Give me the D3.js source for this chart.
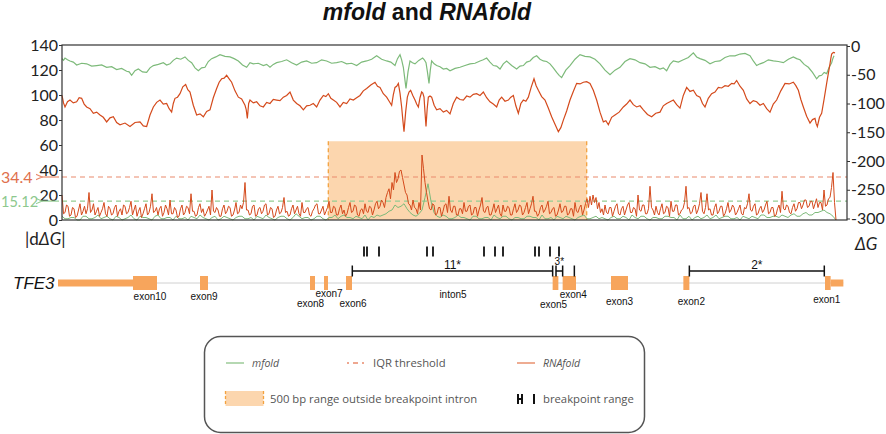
<!DOCTYPE html>
<html><head><meta charset="utf-8">
<script src="https://cdn.jsdelivr.net/npm/d3@7"></script>
<style>body{margin:0;background:#fff}svg{display:block}</style>
</head><body>
<svg id="c" width="886" height="434"></svg>
<script>
// ---------------- DATA ----------------
const xSpan = [0, 15700];               // bp shown on the x axis
const leftTicks = [0, 20, 40, 60, 80, 100, 120, 140];
const rightTicks = [-300, -250, -200, -150, -100, -50, 0];
const iqrRNAfold = 34.4;
const iqrMfold = 15.12;
const intronWindow = [5326, 10494];     // 500 bp range outside breakpoint intron
const intronWindowTop = 63;

// ΔG along the sequence: [position, ΔG]
const rnafoldDG = [[0,-86],[30,-99],[60,-106],[110,-97],[160,-94],[226,-99],[293,-97],[343,-90],[393,-91],[443,-101],[493,-106],[560,-109],[627,-117],[693,-115],[760,-120],[826,-124],[893,-132],[960,-125],[1027,-123],[1093,-133],[1160,-137],[1260,-134],[1360,-140],[1460,-133],[1560,-132],[1626,-139],[1693,-140],[1760,-120],[1827,-106],[1893,-98],[1960,-94],[2026,-101],[2093,-100],[2143,-109],[2193,-115],[2226,-100],[2260,-91],[2310,-89],[2360,-83],[2416,-71],[2473,-67],[2516,-76],[2560,-80],[2626,-103],[2693,-120],[2760,-118],[2827,-123],[2893,-114],[2960,-111],[3026,-90],[3093,-74],[3143,-63],[3193,-57],[3243,-56],[3293,-51],[3343,-57],[3393,-63],[3460,-78],[3527,-89],[3593,-92],[3660,-103],[3683,-110],[3707,-126],[3733,-100],[3760,-94],[3826,-99],[3893,-97],[3960,-104],[4027,-106],[4093,-98],[4160,-100],[4226,-93],[4293,-94],[4360,-95],[4427,-89],[4493,-86],[4560,-80],[4626,-94],[4693,-100],[4760,-104],[4827,-111],[4893,-104],[4960,-103],[5026,-100],[5093,-106],[5160,-94],[5227,-86],[5277,-88],[5327,-83],[5377,-91],[5427,-94],[5493,-98],[5560,-106],[5626,-98],[5693,-100],[5760,-92],[5827,-94],[5893,-90],[5960,-86],[6026,-78],[6093,-74],[6176,-68],[6260,-63],[6310,-70],[6360,-72],[6426,-83],[6493,-89],[6543,-96],[6593,-103],[6626,-85],[6660,-72],[6693,-70],[6727,-65],[6760,-82],[6793,-106],[6816,-128],[6840,-149],[6873,-115],[6907,-89],[6940,-80],[6973,-77],[7016,-86],[7060,-94],[7093,-101],[7127,-106],[7160,-90],[7193,-80],[7216,-82],[7240,-89],[7260,-115],[7280,-140],[7303,-110],[7327,-89],[7360,-87],[7393,-89],[7443,-103],[7493,-111],[7560,-109],[7627,-115],[7693,-112],[7760,-118],[7826,-100],[7893,-89],[7960,-93],[8027,-94],[8093,-87],[8160,-89],[8226,-84],[8293,-83],[8360,-86],[8427,-80],[8493,-90],[8560,-97],[8626,-101],[8693,-106],[8743,-94],[8793,-89],[8860,-96],[8927,-94],[8977,-89],[9027,-86],[9077,-104],[9127,-117],[9177,-100],[9227,-94],[9277,-96],[9327,-89],[9383,-72],[9440,-57],[9483,-69],[9527,-77],[9593,-88],[9660,-94],[9726,-108],[9793,-123],[9860,-136],[9927,-149],[9977,-142],[10027,-129],[10093,-113],[10160,-94],[10226,-79],[10293,-65],[10360,-66],[10427,-63],[10493,-62],[10560,-65],[10626,-77],[10693,-94],[10760,-115],[10827,-132],[10877,-130],[10927,-137],[10993,-124],[11060,-120],[11143,-115],[11227,-106],[11293,-101],[11360,-94],[11426,-102],[11493,-106],[11560,-104],[11627,-111],[11710,-119],[11793,-123],[11876,-117],[11960,-115],[12026,-104],[12093,-100],[12160,-97],[12227,-94],[12293,-102],[12360,-108],[12426,-86],[12493,-72],[12560,-79],[12627,-77],[12693,-86],[12760,-89],[12810,-100],[12860,-106],[12926,-91],[12993,-83],[13060,-80],[13127,-72],[13193,-73],[13260,-69],[13326,-70],[13393,-65],[13443,-66],[13493,-60],[13560,-70],[13627,-77],[13693,-92],[13760,-100],[13826,-95],[13893,-97],[13960,-103],[14027,-100],[14093,-109],[14160,-115],[14226,-101],[14293,-94],[14376,-78],[14460,-65],[14543,-66],[14627,-63],[14677,-69],[14727,-77],[14777,-93],[14827,-106],[14893,-122],[14960,-134],[15010,-128],[15060,-126],[15083,-135],[15107,-140],[15150,-124],[15193,-117],[15243,-92],[15293,-65],[15326,-48],[15360,-31],[15376,-22],[15393,-14],[15426,-11],[15460,-12]];

const mfoldDG = [[0,-22],[30,-25],[60,-21],[110,-24],[160,-26],[226,-28],[293,-33],[393,-30],[493,-31],[593,-35],[693,-34],[793,-33],[893,-37],[993,-36],[1093,-41],[1193,-39],[1293,-44],[1343,-45],[1393,-51],[1460,-43],[1527,-40],[1610,-45],[1693,-46],[1760,-38],[1827,-34],[1927,-32],[2027,-29],[2093,-33],[2160,-31],[2226,-25],[2293,-21],[2376,-23],[2460,-19],[2526,-25],[2593,-29],[2660,-38],[2727,-43],[2793,-38],[2860,-37],[2926,-27],[2993,-22],[3076,-19],[3160,-15],[3260,-18],[3360,-19],[3443,-22],[3527,-26],[3610,-33],[3693,-37],[3760,-29],[3827,-31],[3926,-30],[4027,-34],[4093,-32],[4160,-37],[4226,-32],[4293,-29],[4393,-27],[4493,-24],[4593,-29],[4693,-33],[4793,-28],[4893,-26],[4993,-30],[5093,-29],[5193,-24],[5293,-26],[5393,-30],[5493,-29],[5593,-27],[5693,-31],[5793,-30],[5893,-34],[5993,-28],[6093,-26],[6193,-23],[6293,-17],[6393,-23],[6493,-26],[6576,-28],[6660,-34],[6710,-22],[6760,-15],[6793,-24],[6827,-37],[6853,-55],[6880,-74],[6920,-45],[6960,-26],[7010,-29],[7060,-31],[7136,-25],[7213,-21],[7246,-24],[7280,-29],[7310,-46],[7340,-65],[7366,-42],[7393,-26],[7443,-31],[7493,-34],[7560,-36],[7627,-40],[7693,-39],[7760,-43],[7860,-39],[7960,-37],[8060,-34],[8160,-31],[8260,-30],[8360,-26],[8426,-24],[8493,-21],[8560,-28],[8627,-34],[8693,-35],[8760,-40],[8826,-31],[8893,-26],[8993,-34],[9093,-40],[9160,-35],[9227,-34],[9293,-28],[9360,-26],[9426,-20],[9493,-17],[9560,-23],[9627,-26],[9693,-27],[9760,-31],[9826,-38],[9893,-46],[9943,-51],[9993,-55],[10076,-42],[10160,-34],[10260,-23],[10360,-15],[10460,-18],[10560,-19],[10660,-23],[10760,-31],[10860,-42],[10960,-50],[11060,-42],[11160,-37],[11260,-27],[11360,-22],[11460,-24],[11560,-29],[11660,-31],[11760,-37],[11860,-36],[11960,-40],[12026,-38],[12093,-43],[12160,-32],[12227,-26],[12327,-28],[12427,-24],[12527,-20],[12627,-12],[12693,-19],[12760,-22],[12860,-25],[12960,-31],[13060,-27],[13160,-26],[13260,-20],[13360,-17],[13460,-17],[13560,-14],[13660,-13],[13760,-17],[13826,-26],[13893,-34],[13960,-31],[14027,-29],[14127,-24],[14227,-26],[14327,-27],[14427,-29],[14527,-23],[14627,-19],[14693,-22],[14760,-24],[14843,-32],[14927,-37],[15010,-46],[15093,-57],[15143,-52],[15193,-51],[15243,-46],[15293,-48],[15343,-37],[15393,-29],[15416,-22],[15440,-17]];

// |dΔG| series, one value per window step
const rnafoldStep = 30;
const rnafoldAbsD = [
20,5,6,12,11,3,4,10,9,2,3,8,13,4,7,11,5,9,22,6,8,13,4,7,10,3,6,9,14,5,3,11,9,4,5,10,12,3,7,9,4,12,11,5,6,10,15,4,8,12,3,7,10,2,5,9,13,4,6,11,
21,6,7,10,4,9,11,3,6,12,9,4,16,5,5,10,8,2,3,9,12,4,6,11,10,5,21,7,7,3,4,10,13,6,9,3,5,8,11,4,24,7,6,10,8,3,3,9,12,5,7,11,10,3,4,8,14,5,6,12,
9,14,30,8,8,4,5,11,12,3,4,9,10,5,7,12,13,4,5,10,9,2,3,8,11,5,6,10,18,6,7,3,4,9,12,5,8,11,5,3,14,6,6,9,10,4,3,7,9,12,13,5,5,8,11,4,7,10,15,6,
6,11,10,4,4,9,12,5,8,3,5,10,14,6,7,12,11,4,3,8,9,5,13,7,6,11,10,4,8,13,15,9,11,16,14,10,18,22,25,17,30,24,38,30,33,39,40,34,28,22,20,13,12,8,16,10,9,5,14,8,
52,41,30,22,15,9,8,13,12,4,5,10,10,3,7,12,13,6,19,8,6,11,11,4,4,9,9,5,14,7,7,11,12,4,5,10,10,3,8,12,18,7,6,10,11,4,4,8,13,6,9,12,5,3,12,7,7,11,10,4,
4,9,13,6,8,12,11,4,6,10,14,5,9,13,19,7,7,3,5,10,12,6,8,11,15,5,6,9,10,3,4,8,13,6,7,11,11,4,5,9,9,3,14,7,6,10,12,4,8,13,17,10,19,12,20,14,18,9,14,6,
9,4,12,6,5,10,10,3,7,11,13,5,4,9,11,4,8,12,14,6,6,10,9,3,20,8,7,12,12,5,5,9,27,10,8,4,11,6,4,9,13,5,6,11,10,3,15,7,7,12,12,4,5,8,9,14,27,9,10,5,
6,11,12,5,8,13,22,7,5,10,21,8,9,4,4,10,13,5,7,11,11,3,5,9,14,6,8,12,10,4,6,9,12,5,4,10,9,13,21,8,7,11,13,4,5,9,11,6,8,12,15,5,6,10,10,3,4,9,12,6,
23,9,8,12,11,6,5,10,13,7,9,14,14,9,12,16,16,10,11,15,15,9,13,17,10,14,14,8,24,11,12,17,18,26,38,14,0];
const mfoldStep = 60;
const mfoldAbsD = [
3,1,1,2,2,0,0,3,3,1,1,2,4,1,2,3,1,0,3,2,0,1,2,4,1,0,3,2,2,1,0,3,4,1,1,2,2,0,3,1,1,2,0,3,2,1,4,2,1,0,2,3,0,1,3,2,1,0,2,3,
3,1,1,2,0,3,2,1,4,2,1,0,2,3,3,1,0,2,5,3,1,2,2,0,1,3,3,1,0,2,2,4,1,3,4,2,2,1,3,2,1,4,0,3,2,4,3,4,5,7,8,12,10,11,13,9,6,4,3,5,
8,18,29,15,6,3,2,4,3,1,1,2,4,2,2,1,0,3,3,1,1,2,2,0,4,2,1,3,3,1,0,2,2,1,1,3,3,2,2,0,4,1,1,2,0,3,2,1,3,2,1,0,2,3,4,1,1,2,3,1,
2,1,0,2,3,1,1,3,2,0,4,2,1,3,3,1,0,2,2,1,1,3,3,2,2,0,4,1,1,3,0,2,3,1,2,4,1,2,4,1,2,3,3,1,1,2,0,3,2,1,3,2,1,4,4,2,2,3,3,2,
4,3,2,4,5,3,3,5,6,4,4,6,6,7,8,6,5,3,0];

// Gene model of TFE3 (bp on the same axis)
const geneSpan = [-80, 15627];
const exonNames = ["exon10","exon9","exon8","exon7","exon6","exon5","exon4","exon3","exon2","exon1"];
const exonStart = [1420, 2760, 4960, 5240, 5680, 9813, 10013, 10980, 12427, 15260];
const exonEnd   = [1900, 2920, 5060, 5320, 5800, 9927, 10280, 11320, 12547, 15373];
const utrStart = [-80, 15373];
const utrEnd   = [1420, 15627];
const intronLabel = {name: "inton5", pos: 7820};
const breakpoints = [6040, 6100, 6340, 7300, 7420, 8440, 8660, 8820, 9460, 9540, 9760, 9940];
const rangeStart = [5806, 9880, 12547, 10247];
const rangeEnd   = [9813, 10013, 15246, 10247];
const rangeLabel = ["11*", "3*", "2*", ""];

// ---------------- LAYOUT ----------------
const L = {left: 62, right: 847, top: 45, bottom: 220};
const labelLayout = { // dx (px) and baseline y for exon labels
  exon10:[5,300], exon9:[0,300], exon8:[-2,307], exon7:[3,297], exon6:[4,307],
  exon5:[-2,308], exon4:[4,298], exon3:[0,305], exon2:[5,305], exon1:[-1,303]
};
const C = {
  rna: "#d44a1c", mfold: "#7dba7a", rnaDash: "#e98a6c", mfDash: "#93cd93",
  peach: "#fcd6ae", peachEdge: "#f3a23f", exon: "#f7a55c", axis: "#333"
};
const FONT = "Lato, 'Open Sans', sans-serif";

const svg = d3.select("#c");
const x = d3.scaleLinear().domain(xSpan).range([L.left, L.right]);
const yL = d3.scaleLinear().domain([0, 140]).range([L.bottom, L.top]);
const yR = d3.scaleLinear().domain([-300, 0]).range([218.5, 46]);

// title
const t = svg.append("text").attr("x", 427).attr("y", 20).attr("text-anchor", "middle")
  .style("font-family", "'Liberation Sans', Arial, sans-serif").style("font-weight", "bold").style("font-size", "23px").attr("fill", "#111");
t.append("tspan").style("font-style", "italic").text("mfold");
t.append("tspan").text(" and ");
t.append("tspan").style("font-style", "italic").text("RNAfold");

// shaded window
svg.append("rect").attr("x", x(intronWindow[0])).attr("y", yL(intronWindowTop))
  .attr("width", x(intronWindow[1]) - x(intronWindow[0])).attr("height", yL(0) - yL(intronWindowTop))
  .attr("fill", C.peach);
intronWindow.forEach(p => svg.append("line").attr("x1", x(p)).attr("x2", x(p))
  .attr("y1", yL(intronWindowTop)).attr("y2", yL(0)).attr("stroke", C.peachEdge)
  .attr("stroke-width", 1.3).attr("stroke-dasharray", "4,3"));

// IQR thresholds
[[iqrRNAfold, C.rnaDash], [iqrMfold, C.mfDash]].forEach(([v, c]) => {
  svg.append("line").attr("x1", L.left).attr("x2", L.right).attr("y1", yL(v)).attr("y2", yL(v))
    .attr("stroke", c).attr("stroke-width", 1.2).attr("stroke-dasharray", "5,4");
});

// |dΔG| lines
const lineAbs = (step) => d3.line().x((d, i) => x(i * step)).y(d => yL(d));
svg.append("path").datum(mfoldAbsD).attr("d", lineAbs(mfoldStep)).attr("fill", "none")
  .attr("stroke", C.mfold).attr("stroke-width", 1);
svg.append("path").datum(rnafoldAbsD).attr("d", lineAbs(rnafoldStep)).attr("fill", "none")
  .attr("stroke", C.rna).attr("stroke-width", 1);

// ΔG lines
const lineDG = d3.line().x(d => x(d[0])).y(d => yR(d[1]));
svg.append("path").datum(mfoldDG).attr("d", lineDG).attr("fill", "none").attr("stroke", C.mfold).attr("stroke-width", 1.2);
svg.append("path").datum(rnafoldDG).attr("d", lineDG).attr("fill", "none").attr("stroke", C.rna).attr("stroke-width", 1.2);

// frame
svg.append("rect").attr("x", L.left).attr("y", L.top).attr("width", L.right - L.left).attr("height", L.bottom - L.top)
  .attr("fill", "none").attr("stroke", C.axis).attr("stroke-width", 1.2);

// axes
const gl = svg.append("g").attr("transform", `translate(${L.left},0)`)
  .call(d3.axisLeft(yL).tickValues(leftTicks).tickSize(3).tickPadding(1));
const gr = svg.append("g").attr("transform", `translate(${L.right},0)`)
  .call(d3.axisRight(yR).tickValues(rightTicks).tickFormat(d => String(d)).tickSize(3).tickPadding(1));
[gl, gr].forEach(g => {
  g.select(".domain").remove();
  g.selectAll("text").style("font-family", FONT).style("font-size", "16px").attr("fill", "#222");
  g.selectAll("line").attr("stroke", C.axis);
});

// threshold labels with arrows
svg.append("defs").html(
  `<marker id="arR" viewBox="0 0 10 10" refX="1" refY="5" markerWidth="6" markerHeight="6" orient="auto"><path d="M10,1 L1,5 L10,9" fill="none" stroke="${C.rnaDash}" stroke-width="1.5"/></marker>` +
  `<marker id="arG" viewBox="0 0 10 10" refX="1" refY="5" markerWidth="6" markerHeight="6" orient="auto"><path d="M10,1 L1,5 L10,9" fill="none" stroke="${C.mfDash}" stroke-width="1.5"/></marker>`);
[[iqrRNAfold, "#e0704c", C.rnaDash, "arR", "16px"], [iqrMfold, "#8dc88d", C.mfDash, "arG", "14.5px"]].forEach(([v, tc, lc, m, fs]) => {
  svg.append("line").attr("x1", 59).attr("x2", 42).attr("y1", yL(v)).attr("y2", yL(v))
    .attr("stroke", lc).attr("stroke-width", 1.2).attr("marker-end", `url(#${m})`);
  svg.append("text").attr("x", 1).attr("y", yL(v) + 5.5)
    .style("font-family", FONT).style("font-size", fs).attr("fill", tc).text(String(v));
});

// axis titles
const at1 = svg.append("text").attr("x", 25).attr("y", 245).style("font-family", FONT).style("font-size", "17px").attr("fill", "#222");
at1.append("tspan").text("|d");
at1.append("tspan").style("font-style", "italic").text("ΔG");
at1.append("tspan").text("|");
svg.append("text").attr("x", 855).attr("y", 250).style("font-family", FONT).style("font-size", "17px")
  .style("font-style", "italic").attr("fill", "#222").text("ΔG");

// ---------------- gene track ----------------
const gy = 283;
svg.append("text").attr("x", 13).attr("y", gy + 6).style("font-family", "'Liberation Sans', Arial, sans-serif")
  .style("font-size", "17px").style("font-style", "italic").attr("fill", "#111").text("TFE3");
svg.append("line").attr("x1", x(geneSpan[0])).attr("x2", x(geneSpan[1])).attr("y1", gy).attr("y2", gy)
  .attr("stroke", "#d0d0d0").attr("stroke-width", 1);
svg.selectAll("rect.utr").data(utrStart).join("rect").attr("class", "utr")
  .attr("x", d => x(d)).attr("width", (d, i) => x(utrEnd[i]) - x(d))
  .attr("y", gy - 3.5).attr("height", 7).attr("fill", C.exon);
svg.selectAll("rect.exon").data(exonStart).join("rect").attr("class", "exon")
  .attr("x", d => x(d)).attr("width", (d, i) => x(exonEnd[i]) - x(d))
  .attr("y", gy - 7).attr("height", 14).attr("fill", C.exon);
svg.selectAll("text.exl").data(exonNames).join("text").attr("class", "exl")
  .attr("x", (d, i) => x((exonStart[i] + exonEnd[i]) / 2) + labelLayout[d][0])
  .attr("y", d => labelLayout[d][1]).attr("text-anchor", "middle")
  .style("font-family", "'Liberation Sans', Arial, sans-serif").style("font-size", "10px").attr("fill", "#111").text(d => d);
svg.append("text").attr("x", x(intronLabel.pos)).attr("y", 298).attr("text-anchor", "middle")
  .style("font-family", "'Liberation Sans', Arial, sans-serif").style("font-size", "10px").attr("fill", "#111").text(intronLabel.name);

// breakpoints
svg.selectAll("line.bp").data(breakpoints).join("line").attr("class", "bp")
  .attr("x1", d => x(d)).attr("x2", d => x(d)).attr("y1", 246.5).attr("y2", 256.5)
  .attr("stroke", "#111").attr("stroke-width", 1.8);

// breakpoint ranges
const ry = 271;
rangeStart.forEach((s, i) => {
  const e = rangeEnd[i];
  const g = svg.append("g").attr("stroke", "#111").attr("stroke-width", 1.5);
  if (e > s) g.append("line").attr("x1", x(s)).attr("x2", x(e)).attr("y1", ry).attr("y2", ry);
  g.append("line").attr("x1", x(s)).attr("x2", x(s)).attr("y1", ry - 5.5).attr("y2", ry + 5.5);
  if (e > s) g.append("line").attr("x1", x(e)).attr("x2", x(e)).attr("y1", ry - 5.5).attr("y2", ry + 5.5);
  if (rangeLabel[i]) svg.append("text").attr("x", x((s + e) / 2)).attr("y", i === 1 ? 265 : 269)
    .attr("text-anchor", "middle").style("font-family", "'Liberation Sans', Arial, sans-serif")
    .style("font-size", i === 1 ? "10px" : "12px").attr("fill", "#111").text(rangeLabel[i]);
});

// ---------------- legend ----------------
const lg = svg.append("g");
lg.append("rect").attr("x", 204.5).attr("y", 336.5).attr("width", 440).attr("height", 96).attr("rx", 16)
  .attr("fill", "#fff").attr("stroke", "#555").attr("stroke-width", 1.5);
const lt = (xx, yy, txt, it) => lg.append("text").attr("x", xx).attr("y", yy)
  .style("font-family", "'Open Sans', sans-serif").style("font-size", it ? "10.5px" : "11.3px")
  .style("font-style", it ? "italic" : "normal").attr("fill", "#555").text(txt);
lg.append("line").attr("x1", 226).attr("x2", 244).attr("y1", 363).attr("y2", 363).attr("stroke", "#9ccb98").attr("stroke-width", 1.5);
lt(252, 367, "mfold", true);
lg.append("line").attr("x1", 347).attr("x2", 368).attr("y1", 363).attr("y2", 363).attr("stroke", C.rnaDash).attr("stroke-width", 1.5).attr("stroke-dasharray", "2,4,5,4");
lt(373, 367, "IQR threshold", false);
lg.append("line").attr("x1", 517).attr("x2", 535).attr("y1", 363).attr("y2", 363).attr("stroke", "#e8906e").attr("stroke-width", 1.5);
lt(543, 367, "RNAfold", true);
lg.append("rect").attr("x", 225.5).attr("y", 391).attr("width", 38).attr("height", 15).attr("fill", C.peach);
[225.5, 263.5].forEach(xx => lg.append("line").attr("x1", xx).attr("x2", xx).attr("y1", 391).attr("y2", 406)
  .attr("stroke", C.peachEdge).attr("stroke-width", 1.3).attr("stroke-dasharray", "3,2"));
lt(270, 403, "500 bp range outside breakpoint intron", false);
const hp = lg.append("g").attr("stroke", "#111").attr("stroke-width", 2);
hp.append("line").attr("x1", 518).attr("x2", 518).attr("y1", 394).attr("y2", 404);
hp.append("line").attr("x1", 522).attr("x2", 522).attr("y1", 394).attr("y2", 404);
hp.append("line").attr("x1", 518).attr("x2", 522).attr("y1", 399).attr("y2", 399);
hp.append("line").attr("x1", 534).attr("x2", 534).attr("y1", 394).attr("y2", 404);
lt(543, 403, "breakpoint range", false);
</script>
</body></html>
